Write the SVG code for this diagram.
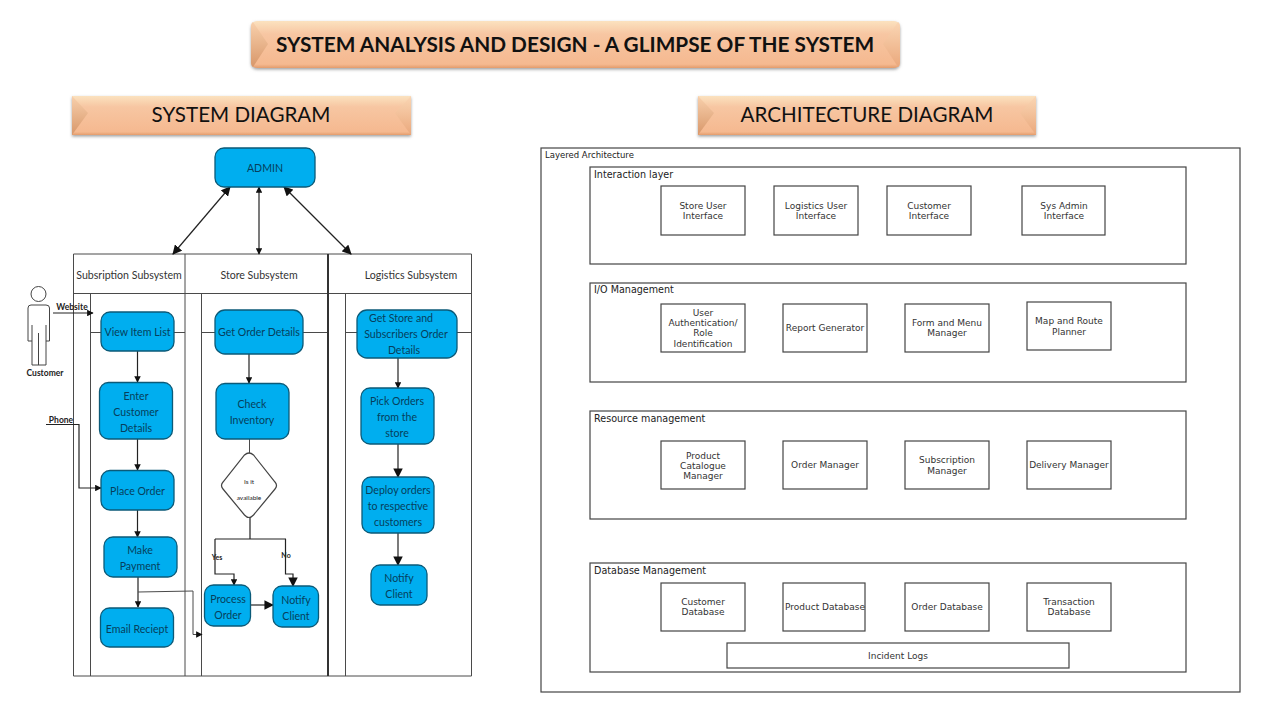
<svg xmlns="http://www.w3.org/2000/svg" width="1280" height="720" viewBox="0 0 1280 720">
<style>
.b{fill:#00aeef;stroke:#0b5a78;stroke-width:1.3}
.bt{font:10.600px Lato,"Open Sans",sans-serif;fill:#063f5c;text-anchor:middle}
.l{fill:none;stroke:#4a4a4a;stroke-width:1}
.lt{font:10.600px Lato,"Open Sans",sans-serif;fill:#333;text-anchor:middle}
.c{fill:none;stroke:#222;stroke-width:1.2}
.s{font:bold 8.500px Lato,sans-serif;fill:#222;text-anchor:middle}
.a{fill:#fff;stroke:#444;stroke-width:1.2}
.at{font:9px "DejaVu Sans",sans-serif;fill:#333;text-anchor:middle}
.al{font:9.600px "DejaVu Sans",sans-serif;fill:#222}
.h1{font:bold 20.800px Lato,sans-serif;fill:#111;text-anchor:middle}
.h2{font:20.600px Lato,sans-serif;fill:#111;text-anchor:middle}
.tiny{font:6.500px Lato,sans-serif;fill:#222;text-anchor:middle}
.yn{font:bold 7px Lato,sans-serif;fill:#222;text-anchor:middle}
</style>
<defs>
<linearGradient id="g" x1="0" y1="0" x2="0" y2="1"><stop offset="0" stop-color="#fbe2bf"/><stop offset="0.28" stop-color="#f7c6a2"/><stop offset="0.92" stop-color="#f5b990"/><stop offset="1" stop-color="#e39c6c"/></linearGradient>
<linearGradient id="g2" x1="0" y1="0" x2="0" y2="1"><stop offset="0" stop-color="#f8d0ac"/><stop offset="1" stop-color="#d8976a"/></linearGradient>
<linearGradient id="g3" x1="0" y1="0" x2="0" y2="1"><stop offset="0" stop-color="#fad6b4"/><stop offset="1" stop-color="#eaa87c"/></linearGradient>
<filter id="sh" x="-5%" y="-20%" width="110%" height="140%"><feDropShadow dx="0" dy="1.500" stdDeviation="1.500" flood-color="#777" flood-opacity="0.7"/></filter>
<marker id="ar" viewBox="0 0 10 10" refX="9" refY="5" markerWidth="6.500" markerHeight="6.500" markerUnits="userSpaceOnUse" orient="auto-start-reverse"><path d="M0 0L10 5L0 10z" fill="#111"/></marker>
<marker id="ab" viewBox="0 0 10 10" refX="9" refY="5" markerWidth="9.500" markerHeight="9.500" markerUnits="userSpaceOnUse" orient="auto-start-reverse"><path d="M0 0L10 5L0 10z" fill="#111"/></marker>
</defs>
<rect width="1280" height="720" fill="#fff"/>

<g id="title"><rect x="251" y="21" width="649" height="47" rx="6" fill="url(#g)" filter="url(#sh)"/><path d="M253 22L268 44L253 67Q251 66 251 62V27Q251 23 253 22Z" fill="url(#g2)"/><path d="M898 22L883 44L898 67Q900 66 900 62V27Q900 23 898 22Z" fill="url(#g3)"/><text class="h1" x="575" y="52">SYSTEM ANALYSIS AND DESIGN - A GLIMPSE OF THE SYSTEM</text></g>
<g id="head-system"><rect x="72" y="96" width="339" height="39" fill="url(#g)" filter="url(#sh)"/><path d="M72 96L88 113L72 135Z" fill="url(#g2)"/><path d="M411 96L395 113L411 135Z" fill="url(#g3)"/><text class="h2" x="241" y="122">SYSTEM DIAGRAM</text></g>
<g id="head-arch"><rect x="698" y="96" width="338" height="39" fill="url(#g)" filter="url(#sh)"/><path d="M698 96L714 113L698 135Z" fill="url(#g2)"/><path d="M1036 96L1020 113L1036 135Z" fill="url(#g3)"/><text class="h2" x="867" y="122">ARCHITECTURE DIAGRAM</text></g>

<g id="swimlanes">
<path class="l" d="M73.500 254H471.500V676H73.500ZM73.500 293.500H471.500M90.500 293.500V676M185 254V676M201.500 293.500V676M345.500 293.500V676M90 332.500H101M174 332.500H185M201 332.500H215M303 332.500H328M345 332.500H357M457 332.500H471"/>
<path d="M328 254V676" fill="none" stroke="#333" stroke-width="2"/>
<text class="lt" x="129" y="278.500">Subsription Subsystem</text><text class="lt" x="259" y="278.500">Store Subsystem</text><text class="lt" x="411" y="278.500">Logistics Subsystem</text>
</g>

<g id="connectors">
<path class="c" d="M230 187L173 254" marker-start="url(#ab)" marker-end="url(#ab)"/>
<path class="c" d="M259 187V254" marker-start="url(#ar)" marker-end="url(#ar)"/>
<path class="c" d="M284 187L351 254" marker-start="url(#ab)" marker-end="url(#ab)"/>
<path class="c" d="M53 313H93" marker-end="url(#ar)"/>
<path class="c" d="M46 424.500H79V488H101" marker-end="url(#ar)"/>
<path class="c" d="M137.500 351V382" marker-end="url(#ar)"/>
<path class="c" d="M137.500 439V470" marker-end="url(#ar)"/>
<path class="c" d="M137.500 510V537" marker-end="url(#ar)"/>
<path class="c" d="M138 577V607" marker-end="url(#ar)"/>
<path class="l" d="M138 592L193 591V634.500H202" marker-end="url(#ar)"/>
<path class="c" d="M249 354V383" marker-end="url(#ar)"/>
<path class="l" d="M249.500 439V453"/>
<path class="c" d="M250 518V539M215 539H286"/>
<path class="c" d="M215 539V574H234V585" marker-end="url(#ar)"/>
<path class="c" d="M285.500 539V574H293V586" marker-end="url(#ab)"/>
<path class="c" d="M250 605H273" marker-end="url(#ab)"/>
<path class="c" d="M398 358V388" marker-end="url(#ar)"/>
<path class="c" d="M398 444V477" marker-end="url(#ab)"/>
<path class="c" d="M398 533V565" marker-end="url(#ab)"/>
</g>

<g id="admin"><rect class="b" x="215" y="148" width="100" height="39" rx="9"/><text class="bt" x="265" y="171.500">ADMIN</text></g>
<g id="customer"><circle cx="38.500" cy="294" r="7.500" fill="#fff" stroke="#444"/><path d="M31 305H46Q49.500 305 49.500 308V341H46V365H32V341H28V308Q28 305 31 305ZM32 325V341M46 325V341M38.500 333V365" fill="#fff" stroke="#444"/><text class="s" x="45" y="375.500">Customer</text></g>
<g id="lbl-website"><text class="s" x="72" y="310">Website</text></g>
<g id="lbl-phone"><text class="s" x="61" y="423">Phone</text></g>
<g id="view"><rect class="b" x="101" y="312" width="73" height="39" rx="9"/><text class="bt" x="137.500" y="336">View Item List</text></g>
<g id="enter"><rect class="b" x="99.500" y="382.500" width="73" height="56.500" rx="9"/><text class="bt" x="136" y="399.500">Enter</text><text class="bt" x="136" y="415.500">Customer</text><text class="bt" x="136" y="431.500">Details</text></g>
<g id="place"><rect class="b" x="101" y="470.500" width="73" height="39.500" rx="9"/><text class="bt" x="137.500" y="495">Place Order</text></g>
<g id="pay"><rect class="b" x="104" y="537" width="73" height="40" rx="9"/><text class="bt" x="140" y="553.500">Make</text><text class="bt" x="140" y="569.500">Payment</text></g>
<g id="email"><rect class="b" x="100.500" y="608" width="73" height="39" rx="9"/><text class="bt" x="137" y="632.500">Email Reciept</text></g>
<g id="getorder"><rect class="b" x="215" y="310" width="88" height="44" rx="10"/><text class="bt" x="259" y="336">Get Order Details</text></g>
<g id="check"><rect class="b" x="216" y="383.500" width="73" height="55.500" rx="9"/><text class="bt" x="252" y="407.500">Check</text><text class="bt" x="252" y="423.500">Inventory</text></g>
<g id="avail"><path d="M244.500 455Q249 451 253.500 455L275 482Q278 485.500 275 489L253.500 515Q249 520 244.500 515L223 489Q220 485.500 223 482Z" fill="#fff" stroke="#444" stroke-width="1.200"/><text class="tiny" x="249" y="484">Is it</text><text class="tiny" x="249" y="500">available</text></g>
<g id="lbl-yes"><text class="yn" x="217" y="560">Yes</text></g>
<g id="lbl-no"><text class="yn" x="286" y="558">No</text></g>
<g id="process"><rect class="b" x="204.500" y="585" width="46" height="41" rx="9"/><text class="bt" x="228" y="602.500">Process</text><text class="bt" x="228" y="618.500">Order</text></g>
<g id="notify1"><rect class="b" x="273" y="586" width="45.500" height="41" rx="9"/><text class="bt" x="296" y="603.500">Notify</text><text class="bt" x="296" y="619.500">Client</text></g>
<g id="getstore"><rect class="b" x="357" y="310" width="100" height="48" rx="10"/><text class="bt" x="401" y="322">Get Store and</text><text class="bt" x="406" y="338">Subscribers Order</text><text class="bt" x="404" y="354">Details</text></g>
<g id="pick"><rect class="b" x="361" y="388" width="73" height="56" rx="9"/><text class="bt" x="397" y="405">Pick Orders</text><text class="bt" x="397" y="421">from the</text><text class="bt" x="397" y="437">store</text></g>
<g id="deploy"><rect class="b" x="362" y="477" width="72" height="56" rx="9"/><text class="bt" x="398" y="494">Deploy orders</text><text class="bt" x="398" y="510">to respective</text><text class="bt" x="398" y="526">customers</text></g>
<g id="notify2"><rect class="b" x="371" y="565" width="56" height="40" rx="9"/><text class="bt" x="399" y="581.500">Notify</text><text class="bt" x="399" y="597.500">Client</text></g>

<g id="arch"><rect class="a" x="541" y="148" width="699" height="544"/><text class="al" x="545" y="158" style="font-size:8.500px">Layered Architecture</text></g>
<g id="layer1"><rect class="a" x="590" y="167" width="596" height="97"/><text class="al" x="594" y="178">Interaction layer</text></g>
<g id="layer2"><rect class="a" x="590" y="283" width="596" height="99"/><text class="al" x="594" y="293">I/O Management</text></g>
<g id="layer3"><rect class="a" x="590" y="411" width="596" height="108"/><text class="al" x="594" y="422">Resource management</text></g>
<g id="layer4"><rect class="a" x="590" y="563" width="596" height="109"/><text class="al" x="594" y="574">Database Management</text></g>
<g id="a1"><rect class="a" x="661" y="186" width="84" height="49"/><text class="at" x="703" y="209">Store User</text><text class="at" x="703" y="219">Interface</text></g>
<g id="a2"><rect class="a" x="774" y="186" width="84" height="49"/><text class="at" x="816" y="209">Logistics User</text><text class="at" x="816" y="219">Interface</text></g>
<g id="a3"><rect class="a" x="887" y="186" width="84" height="49"/><text class="at" x="929" y="209">Customer</text><text class="at" x="929" y="219">Interface</text></g>
<g id="a4"><rect class="a" x="1022" y="186" width="83" height="49"/><text class="at" x="1064" y="209">Sys Admin</text><text class="at" x="1064" y="219">Interface</text></g>
<g id="b1"><rect class="a" x="661" y="304" width="84" height="48"/><text class="at" x="703" y="316">User</text><text class="at" x="703" y="326">Authentication/</text><text class="at" x="703" y="336">Role</text><text class="at" x="703" y="346.500">Identification</text></g>
<g id="b2"><rect class="a" x="783" y="304" width="84" height="48"/><text class="at" x="825" y="331">Report Generator</text></g>
<g id="b3"><rect class="a" x="905" y="304" width="84" height="48"/><text class="at" x="947" y="326">Form and Menu</text><text class="at" x="947" y="336">Manager</text></g>
<g id="b4"><rect class="a" x="1027" y="302" width="84" height="48"/><text class="at" x="1069" y="324">Map and Route</text><text class="at" x="1069" y="335">Planner</text></g>
<g id="c1"><rect class="a" x="661" y="441" width="84" height="48"/><text class="at" x="703" y="459">Product</text><text class="at" x="703" y="469">Catalogue</text><text class="at" x="703" y="479">Manager</text></g>
<g id="c2"><rect class="a" x="783" y="441" width="84" height="48"/><text class="at" x="825" y="468">Order Manager</text></g>
<g id="c3"><rect class="a" x="905" y="441" width="84" height="48"/><text class="at" x="947" y="463">Subscription</text><text class="at" x="947" y="474">Manager</text></g>
<g id="c4"><rect class="a" x="1027" y="441" width="84" height="48"/><text class="at" x="1069" y="468">Delivery Manager</text></g>
<g id="d1"><rect class="a" x="661" y="583" width="84" height="48"/><text class="at" x="703" y="605">Customer</text><text class="at" x="703" y="615">Database</text></g>
<g id="d2"><rect class="a" x="783" y="583" width="82" height="48"/><text class="at" x="825" y="610">Product Database</text></g>
<g id="d3"><rect class="a" x="905" y="583" width="84" height="48"/><text class="at" x="947" y="610">Order Database</text></g>
<g id="d4"><rect class="a" x="1027" y="583" width="84" height="48"/><text class="at" x="1069" y="605">Transaction</text><text class="at" x="1069" y="615">Database</text></g>
<g id="logs"><rect class="a" x="727" y="643" width="342" height="25"/><text class="at" x="898" y="659">Incident Logs</text></g>
</svg>
